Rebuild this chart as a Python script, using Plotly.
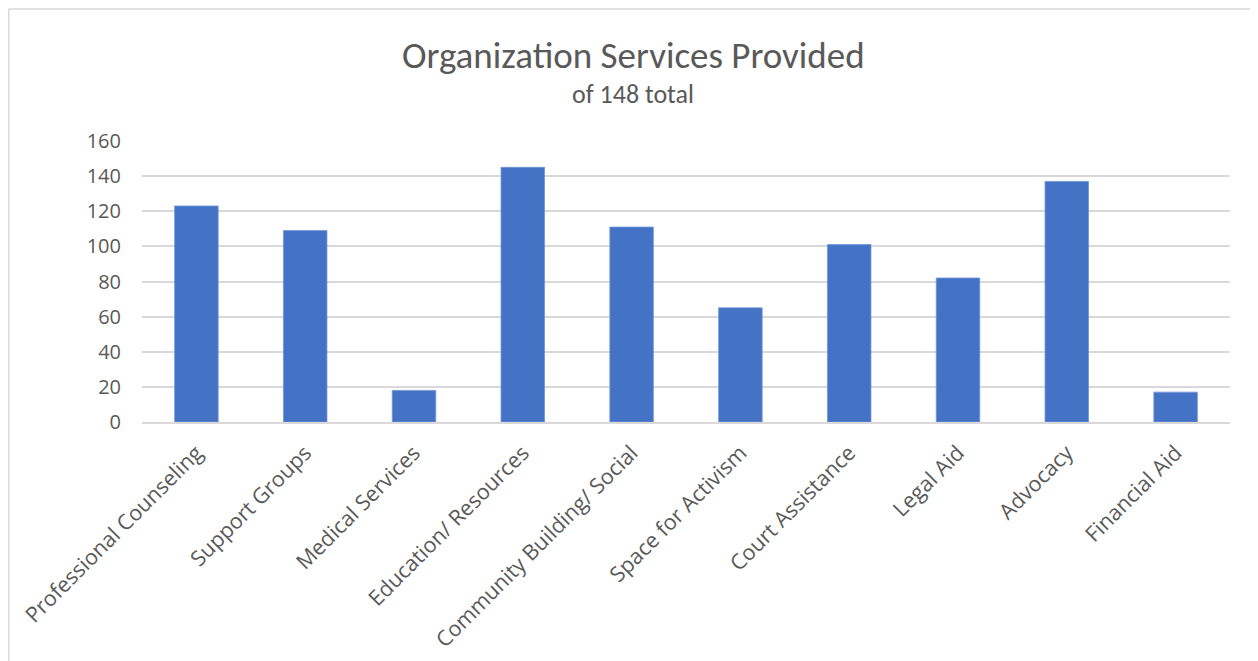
import plotly.graph_objects as go

categories = ["Professional Counseling", "Support Groups", "Medical Services",
              "Education/ Resources", "Community Building/ Social", "Space for Activism",
              "Court Assistance", "Legal Aid", "Advocacy", "Financial Aid"]
values = [123, 109, 18, 145, 111, 65, 101, 82, 137, 17]
y_ticks = [0, 20, 40, 60, 80, 100, 120, 140, 160]
title_text = "Organization Services Provided"
subtitle_text = "of 148 total"

# the page places the figure at an 8px offset, so the figure is 8px smaller
W, H = 1250, 653
L, R, T, B = 134, 28, 133, 239
pw, ph = W - L - R, H - T - B

fig = go.Figure(go.Bar(x=categories, y=values,
                       marker=dict(color="#4472C4", line=dict(color="#6F95D6", width=0.8))))

label_font = "Open Sans, sans-serif"
title_font = "Calibri, Carlito, Lato, sans-serif"
fig.update_layout(
    width=W, height=H,
    margin=dict(l=L, r=R, t=T, b=B, autoexpand=False),
    paper_bgcolor="white", plot_bgcolor="white",
    bargap=0.6,
    showlegend=False,
    xaxis=dict(
        tickangle=-45, tickfont=dict(family=label_font, size=21.5, color="#595959"),
        showgrid=False, showline=True, linecolor="#d9d9d9", linewidth=1.5,
        ticks="", fixedrange=True, ticklabelstandoff=8, automargin=False,
    ),
    yaxis=dict(
        range=[0, 160], tickvals=y_ticks,
        tickfont=dict(family=label_font, size=20, color="#595959"),
        showgrid=True, gridcolor="#d9d9d9", gridwidth=1.5,
        zeroline=False, showline=False, ticks="", ticklabelstandoff=20, automargin=False,
    ),
)

fig.add_annotation(text=title_text, xref="paper", yref="paper",
                   x=(633 - 8 - L) / pw, y=(H - B - 47) / ph,
                   xanchor="center", yanchor="middle", showarrow=False,
                   font=dict(family=title_font, size=37, color="#595959"))
fig.add_annotation(text=subtitle_text, xref="paper", yref="paper",
                   x=(633 - 8 - L) / pw, y=(H - B - 86) / ph,
                   xanchor="center", yanchor="middle", showarrow=False,
                   font=dict(family=title_font, size=26, color="#595959"))

# chart-area border (top and left edges visible)
x_left = (0.75 - L) / pw
y_top = (H - B - 1) / ph
fig.add_shape(type="line", xref="paper", yref="paper", x0=x_left, x1=(W - L) / pw,
              y0=y_top, y1=y_top, line=dict(color="#d9d9d9", width=1.5))
fig.add_shape(type="line", xref="paper", yref="paper", x0=x_left, x1=x_left,
              y0=y_top, y1=-(B) / ph, line=dict(color="#d9d9d9", width=1.5))

fig.write_html("out.html")
